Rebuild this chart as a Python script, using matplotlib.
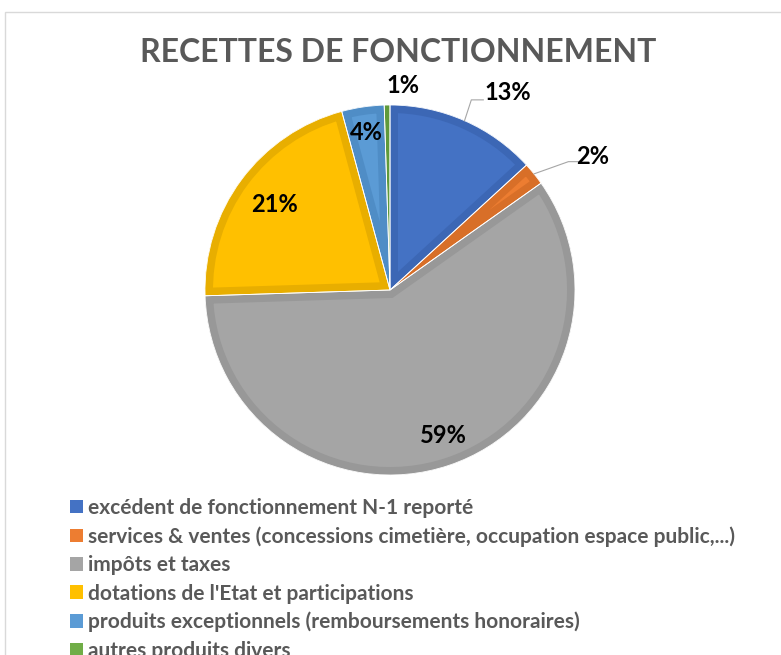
import matplotlib
matplotlib.use('Agg')
import numpy as np
import matplotlib.pyplot as plt
from matplotlib.patches import Wedge, Patch, Rectangle

plt.rcParams['font.family'] = ['Lato', 'DejaVu Sans']

# données
categories = [
    "excédent de fonctionnement N-1 reporté",
    "services & ventes (concessions cimetière, occupation espace public,...)",
    "impôts et taxes",
    "dotations de l'Etat et participations",
    "produits exceptionnels (remboursements honoraires)",
    "autres produits divers",
]
shares = [13.2, 2.0, 59.3, 21.3, 3.7, 0.5]
pct_labels = ["13%", "2%", "59%", "21%", "4%", "1%"]

colors = ["#4472C4", "#ED7D31", "#A5A5A5", "#FFC000", "#5B9BD5", "#70AD47"]
edge_colors = ["#3C67B5", "#D86F28", "#989898", "#E8AE00", "#4F8DC6", "#5F9A3B"]

# placement des étiquettes (distance radiale, décalage angulaire)
lab_dist = [1.24, 1.31, 0.84, 0.78, 0.86, 1.11]
lab_shift = [-7, -5.5, 1.5, 0, 0, -4.5]
leaders = {0: (36, 24, 7), 1: (24, 13, 5)}

W, H = 781, 655
fig = plt.figure(figsize=(W / 100, H / 100), dpi=100)
ax = fig.add_axes([0, 0, 1, 1])

cx, cy, R = 390, H - 290, 185
wedges, _ = ax.pie(shares, colors=colors, startangle=90, counterclock=False,
                   center=(cx, cy), radius=R, wedgeprops=dict(linewidth=0))
ax.set_xlim(0, W)
ax.set_ylim(0, H)
ax.axis('off')

# bordure intérieure plus foncée (style Excel)
for w, ec in zip(wedges, edge_colors):
    b = Wedge((cx, cy), R, w.theta1, w.theta2, facecolor='none',
              edgecolor=ec, linewidth=11.5)
    ax.add_patch(b)
    b.set_clip_path(w)
for w in wedges:
    ax.add_patch(Wedge((cx, cy), R, w.theta1, w.theta2, facecolor='none',
                       edgecolor='white', linewidth=0.6))

for i, (w, lab, d, s) in enumerate(zip(wedges, pct_labels, lab_dist, lab_shift)):
    mid = (w.theta1 + w.theta2) / 2
    a = np.deg2rad(mid + s)
    tx, ty = cx + d * R * np.cos(a), cy + d * R * np.sin(a)
    ax.text(tx, ty, lab, ha='center', va='center', fontsize=17,
            fontweight='bold', color='black')
    if i in leaders:
        e1, e2, dy = leaders[i]
        m = np.deg2rad(mid)
        ex, ey = cx + R * np.cos(m), cy + R * np.sin(m)
        ax.plot([ex, tx - e1, tx - e2], [ey, ty - dy, ty - dy],
                color='#A6A6A6', lw=0.8)

ax.text(398, H - 52, "RECETTES DE FONCTIONNEMENT", ha='center', va='center',
        fontsize=23, fontweight='bold', color='#595959')

# cadre de la zone de graphique
ax.add_patch(Rectangle((5, -20), W, H - 12 + 20, facecolor='none',
                       edgecolor='#D9D9D9', linewidth=1, clip_on=False))

handles = [Patch(facecolor=c, edgecolor='none') for c in colors]
fig.legend(handles, categories, loc='upper left', bbox_to_anchor=(70 / W, 1 - 498 / H),
           frameon=False, prop=dict(size=15, weight='bold'), labelcolor='#595959',
           handlelength=0.62, handleheight=0.62, handletextpad=0.26,
           labelspacing=0.40, borderpad=0, borderaxespad=0)

fig.savefig('out.png', dpi=100)
